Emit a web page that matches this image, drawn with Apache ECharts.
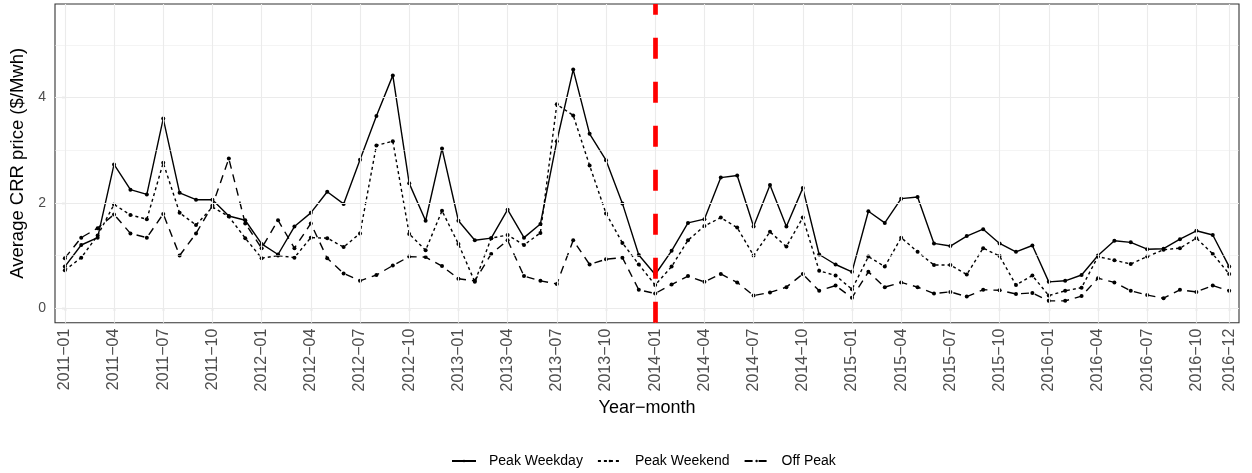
<!DOCTYPE html>
<html>
<head>
<meta charset="utf-8">
<script src="https://cdn.jsdelivr.net/npm/echarts@6/dist/echarts.min.js"></script>
<style>
html,body{margin:0;padding:0;background:#fff;}
#chart{width:1252px;height:473px;}
</style>
</head>
<body>
<div id="chart"></div>
<script>
var months = [
'2011\u221201','2011\u221202','2011\u221203','2011\u221204','2011\u221205','2011\u221206','2011\u221207','2011\u221208','2011\u221209','2011\u221210','2011\u221211','2011\u221212',
'2012\u221201','2012\u221202','2012\u221203','2012\u221204','2012\u221205','2012\u221206','2012\u221207','2012\u221208','2012\u221209','2012\u221210','2012\u221211','2012\u221212',
'2013\u221201','2013\u221202','2013\u221203','2013\u221204','2013\u221205','2013\u221206','2013\u221207','2013\u221208','2013\u221209','2013\u221210','2013\u221211','2013\u221212',
'2014\u221201','2014\u221202','2014\u221203','2014\u221204','2014\u221205','2014\u221206','2014\u221207','2014\u221208','2014\u221209','2014\u221210','2014\u221211','2014\u221212',
'2015\u221201','2015\u221202','2015\u221203','2015\u221204','2015\u221205','2015\u221206','2015\u221207','2015\u221208','2015\u221209','2015\u221210','2015\u221211','2015\u221212',
'2016\u221201','2016\u221202','2016\u221203','2016\u221204','2016\u221205','2016\u221206','2016\u221207','2016\u221208','2016\u221209','2016\u221210','2016\u221211','2016\u221212'
];

var peakWeekday = [
0.79,1.20,1.34,2.73,2.25,2.16,3.60,2.19,2.06,2.06,1.75,1.67,
1.22,1.02,1.55,1.81,2.21,1.98,2.82,3.65,4.42,2.37,1.66,3.03,
1.66,1.29,1.33,1.87,1.34,1.60,3.17,4.53,3.31,2.81,1.99,1.01,
0.64,1.09,1.62,1.69,2.48,2.52,1.55,2.34,1.55,2.28,1.02,0.83,
0.69,1.84,1.62,2.08,2.11,1.23,1.18,1.37,1.50,1.23,1.07,1.19,
0.50,0.52,0.63,1.00,1.28,1.25,1.12,1.13,1.31,1.47,1.39,0.79
];

var peakWeekend = [
0.72,0.96,1.38,1.97,1.77,1.69,2.76,1.81,1.58,1.92,1.74,1.33,
0.95,1.00,0.96,1.34,1.33,1.16,1.42,3.09,3.17,1.41,1.10,1.85,
1.22,0.50,1.33,1.39,1.20,1.43,3.87,3.66,2.71,1.80,1.24,0.83,
0.44,0.79,1.29,1.56,1.72,1.53,1.00,1.45,1.17,1.72,0.71,0.62,
0.36,0.98,0.79,1.34,1.07,0.82,0.82,0.64,1.14,0.99,0.44,0.62,
0.24,0.33,0.39,0.98,0.91,0.84,0.98,1.11,1.14,1.33,1.03,0.65
];

var offPeak = [
0.95,1.34,1.52,1.78,1.42,1.34,1.79,1.00,1.42,1.95,2.84,1.61,
1.14,1.67,1.14,1.61,0.95,0.66,0.52,0.63,0.81,0.98,0.97,0.80,
0.56,0.52,1.03,1.29,0.61,0.52,0.46,1.29,0.83,0.93,0.96,0.35,
0.28,0.45,0.61,0.50,0.65,0.49,0.24,0.30,0.40,0.65,0.33,0.43,
0.20,0.69,0.40,0.49,0.40,0.28,0.31,0.22,0.35,0.34,0.27,0.29,
0.14,0.14,0.23,0.57,0.49,0.33,0.25,0.19,0.35,0.31,0.43,0.33
];

var xTickIdx = [0,3,6,9,12,15,18,21,24,27,30,33,36,39,42,45,48,51,54,57,60,63,66,69,71];
var yMajor = [0,2,4];
var yMinor = [1,3,5];
var seriesNames = ['Peak Weekday','Peak Weekend','Off Peak'];
var breakMonth = '2014\u221201';

function pairs(arr){ return arr.map(function(v,i){ return [i, v]; }); }

var gridLines = [];
xTickIdx.forEach(function(i){ gridLines.push({xAxis: i, lineStyle:{width:1.1}}); });
yMajor.forEach(function(v){ gridLines.push({yAxis: v, lineStyle:{width:1.1}}); });
yMinor.forEach(function(v){ gridLines.push({yAxis: v, lineStyle:{width:0.55}}); });

var FONT = '"Liberation Sans", Arial, Helvetica, sans-serif';

var chart = echarts.init(document.getElementById('chart'), null, {renderer:'canvas'});
var option = {
  animation: false,
  backgroundColor: '#ffffff',
  textStyle: {fontFamily: FONT},
  grid: {left: 51, top: 4, width: 1188, height: 318.7, show: true, borderColor: '#333333', borderWidth: 1.1, backgroundColor: 'transparent', containLabel: false},
  legend: {
    data: seriesNames,
    left: 446, top: 449,
    itemWidth: 24, itemHeight: 3, itemGap: 14,
    textStyle: {fontFamily: FONT, fontSize: 14, color: '#000000', padding: [0,0,0,8], lineHeight: 14},
    inactiveColor: '#ccc'
  },
  xAxis: {
    type: 'value', min: -0.6, max: 71.6,
    name: 'Year\u2212month', nameLocation: 'middle', nameGap: 74,
    nameTextStyle: {fontFamily: FONT, fontSize: 18, color: '#000000'},
    axisLine: {show: false},
    axisTick: {show: true, length: 3, lineStyle: {color: '#333333', width: 1.1}, customValues: xTickIdx},
    axisLabel: {show: true, rotate: 90, margin: 6, fontSize: 16, color: '#4d4d4d', fontFamily: FONT, customValues: xTickIdx,
      formatter: function(v){ return months[Math.round(v)] || ''; }},
    splitLine: {show: false}
  },
  yAxis: {
    type: 'value', min: -0.275, max: 5.775,
    name: 'Average CRR price ($/Mwh)', nameLocation: 'middle', nameGap: 28,
    nameTextStyle: {fontFamily: FONT, fontSize: 18.5, color: '#000000'},
    axisLine: {show: false},
    axisTick: {show: true, length: 3, lineStyle: {color: '#333333', width: 1.1}, customValues: yMajor},
    axisLabel: {show: true, margin: 9, fontSize: 14, color: '#4d4d4d', fontFamily: FONT, customValues: yMajor},
    splitLine: {show: false}
  },
  series: [
    {
      name: '__grid', type: 'line', data: [], z: 1, silent: true,
      markLine: {silent: true, symbol: 'none', label: {show: false}, animation: false,
        lineStyle: {color: '#ebebeb', type: 'solid', width: 1.1},
        emphasis: {disabled: true},
        data: gridLines}
    },
    {
      name: seriesNames[0], type: 'line', data: pairs(peakWeekday), z: 3,
      symbol: 'circle', symbolSize: 4,
      lineStyle: {color: '#000000', width: 1.4, type: 'solid'},
      itemStyle: {color: '#000000'}
    },
    {
      name: seriesNames[1], type: 'line', data: pairs(peakWeekend), z: 3,
      symbol: 'circle', symbolSize: 4,
      lineStyle: {color: '#000000', width: 1.4, type: [3,3]},
      itemStyle: {color: '#000000'}
    },
    {
      name: seriesNames[2], type: 'line', data: pairs(offPeak), z: 3,
      symbol: 'circle', symbolSize: 4,
      lineStyle: {color: '#000000', width: 1.4, type: [8,6]},
      itemStyle: {color: '#000000'}
    },
    {
      name: '__break', type: 'line', data: [], z: 5, silent: true,
      markLine: {silent: true, symbol: 'none', label: {show: false}, animation: false,
        lineStyle: {color: '#ff0000', type: [21,23], width: 4.7},
        emphasis: {disabled: true},
        data: [{xAxis: months.indexOf(breakMonth)}]}
    }
  ]
};
chart.setOption(option);
</script>
</body>
</html>
